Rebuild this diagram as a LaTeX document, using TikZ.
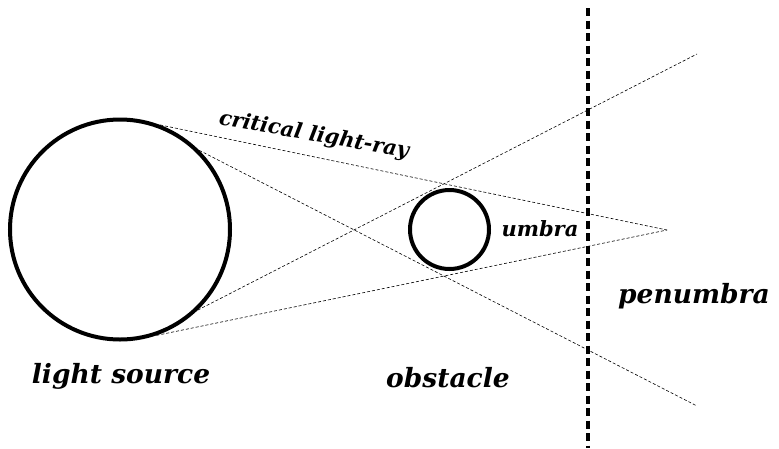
\documentclass[tikz,border=0pt]{standalone}
\usepackage{fontspec}
\setmainfont{DejaVu Serif}
\usepackage{tikz}
\usetikzlibrary{positioning}

\begin{document}
\begin{tikzpicture}[
    x=1pt, y=-1pt,
    body/.style={circle, draw, line width=4pt, inner sep=0pt},
    ray/.style={densely dashed, line width=0.6pt},
    screen/.style={dash pattern=on 8pt off 4.5pt, line width=3.5pt},
    biglabel/.style={font=\fontsize{26.5}{30}\selectfont\bfseries\itshape, anchor=base},
    smalllabel/.style={font=\fontsize{21}{25}\selectfont\bfseries\itshape, anchor=base}
]
    \useasboundingbox (0,0) rectangle (779,448);

    % Bodies
    \node[body, minimum size=220pt] (src) at (120,229.5) {};
    \node[body, minimum size=79pt] (obst) at (449.5,229.5) {};

    % Ray ends
    \coordinate (tip) at (667,230);
    \coordinate (uend) at (697,54);
    \coordinate (lend) at (697,406);
    \coordinate (scrtop) at (588,8);
    \coordinate (scrbot) at (588,448);

    % Rays
    \draw[ray] (src.69) -- (tip);
    \draw[ray] (src.-71) -- (tip);
    \draw[ray] (src.45) -- (lend);
    \draw[ray] (src.-46) -- (uend);

    % Screen
    \draw[screen] (scrtop) -- (scrbot);

    % Labels
    \node[smalllabel, rotate=-10] (lray) at (313,141) {critical light-ray};
    \node[biglabel] (lsrc) at (121,383) {light source};
    \node[biglabel] (lobst) at (448,387) {obstacle};
    \node[biglabel] (lpen) at (694,303) {penumbra};
    \node[smalllabel] (lumb) at (540,236) {umbra};
\end{tikzpicture}
\end{document}
